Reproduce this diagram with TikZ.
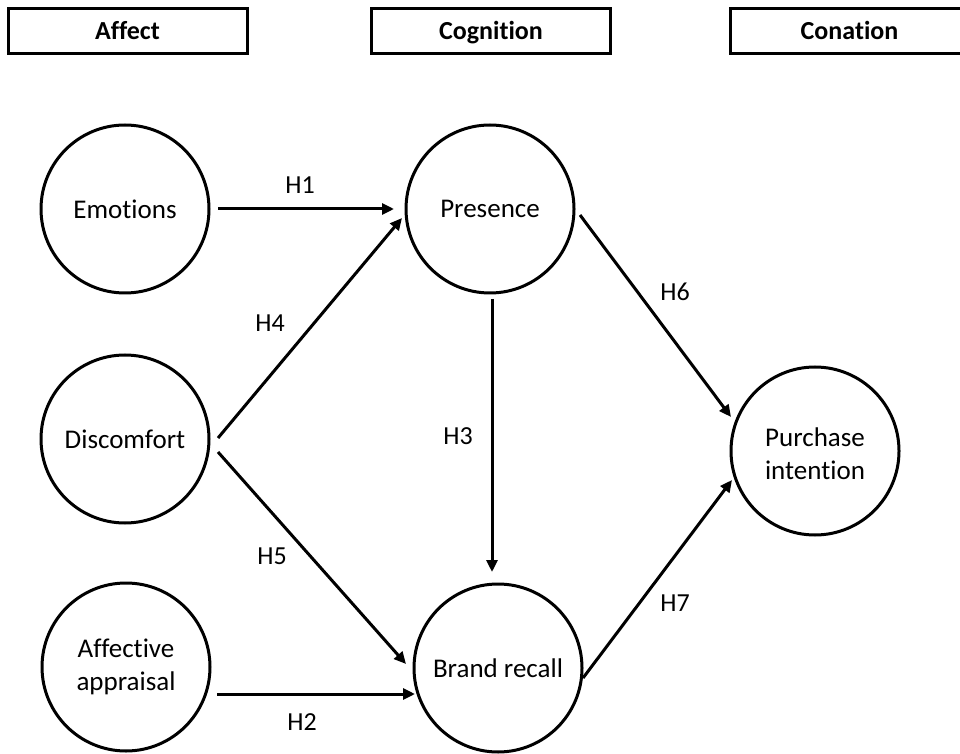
\documentclass[tikz,border=0pt]{standalone}
\usepackage{fontspec}
\setmainfont{Carlito}[Ligatures=NoCommon]
\usetikzlibrary{arrows.meta,calc}
\begin{document}
\begin{tikzpicture}[x=1pt,y=1pt,
  concept/.style={circle,draw,line width=3pt,minimum size=168pt,inner sep=0pt,align=center,font=\fontsize{27}{33}\selectfont},
  header/.style={draw,line width=3pt,minimum width=239pt,minimum height=45pt,inner sep=0pt,text height=17pt,text depth=0pt,font=\fontsize{26}{30}\selectfont\bfseries},
  arr/.style={line width=3pt,-{Triangle[length=12pt,width=11pt]}},
  hlab/.style={font=\fontsize{26}{30}\selectfont,inner sep=0pt}]
\useasboundingbox (0,0) rectangle (960,753);
% headers
\node[header] (affect) at (127.5,722) {Affect};
\node[header] (cognition) at (491,722) {Cognition};
\node[header] (conation) at (849.5,722) {Conation};
% concepts
\node[concept] (emo) at (125,544) {Emotions};
\node[concept] (disc) at (125,314) {Discomfort};
\node[concept] (aff) at (126,86) {Affective\\appraisal};
\node[concept] (pres) at (490,544) {Presence};
\node[concept] (brand) at (498,85) {Brand recall};
\node[concept] (purch) at (815,302) {\raisebox{-5pt}[\height][\depth]{\begin{tabular}{@{}c@{}}Purchase\\intention\end{tabular}}};
% arrows
\draw[arr] ($(emo)+(93,0)$) -- ($(pres)+(-96,0)$);
\draw[arr] ($(disc)+(93,1)$) -- ($(pres)+(-88,-9)$);
\draw[arr] ($(disc)+(93,-13)$) -- ($(brand)+(-92,4)$);
\draw[arr] ($(aff)+(91,-27)$) -- ($(brand)+(-83,-26)$);
\draw[arr] ($(pres)+(2,-90)$) -- ($(brand)+(-6,96)$);
\draw[arr] ($(pres)+(90,-6)$) -- ($(purch)+(-84,34)$);
\draw[arr] ($(brand)+(85,-10)$) -- ($(purch)+(-83,-29)$);
% labels
\node[hlab] (h1) at (300,568) {H1};
\node[hlab] (h4) at (270,430) {H4};
\node[hlab] (h5) at (272,197) {H5};
\node[hlab] (h2) at (302,31) {H2};
\node[hlab] (h3) at (458,317) {H3};
\node[hlab] (h6) at (675,461) {H6};
\node[hlab] (h7) at (675,150) {H7};
\end{tikzpicture}
\end{document}
